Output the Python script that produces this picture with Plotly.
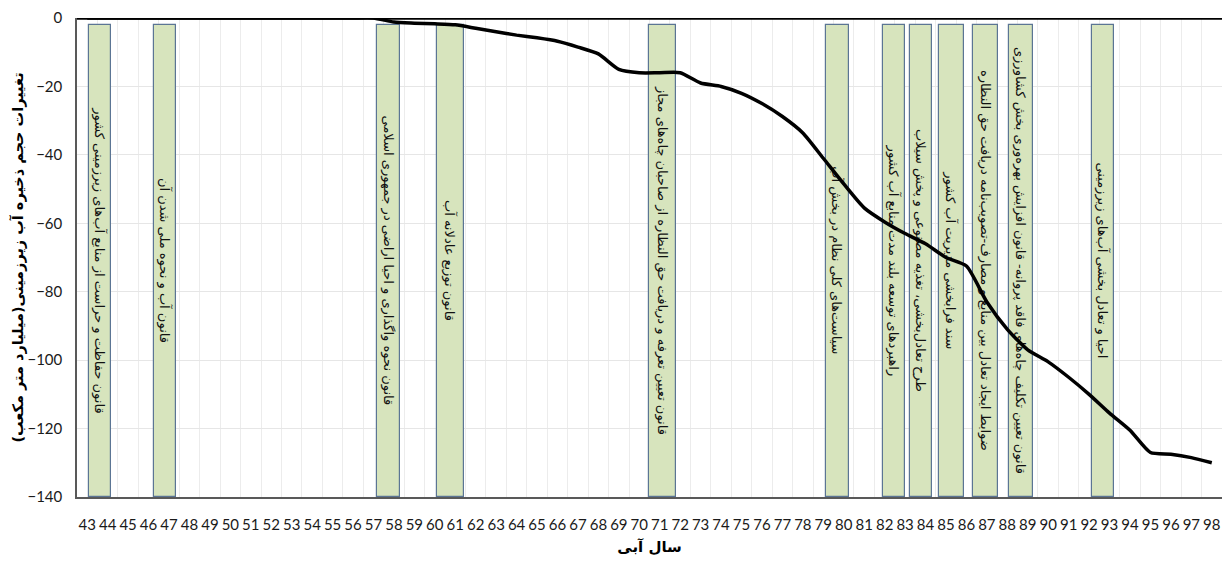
import plotly.graph_objects as go

# Water years (Iranian calendar, short form)
years = list(range(43, 99))
tick_labels = [str(y) for y in years]

# Change in groundwater storage (billion m3)
storage_change = [
    0, 0, 0, 0, 0, 0, 0, 0, 0, 0, 0, 0, 0, 0, 0,      # 43-57
    -1.2, -1.5, -1.7, -2.0, -3.0, -4.0, -5.0, -5.8,   # 58-65
    -6.8, -8.5, -10.5, -15.0, -16.0, -16.0, -16.0,    # 66-72
    -19.0, -20.0, -22.0, -25.0, -28.8, -33.6,         # 73-78
    -41.0, -48.5, -55.5, -59.6, -63.0, -66.0,         # 79-84
    -70.0, -72.5, -83.0, -91.0, -97.0, -100.5,        # 85-90
    -105.0, -110.0, -115.5, -120.5, -127.0, -127.5,   # 91-96
    -128.5, -130.0,                                   # 97-98
]

# Laws / policies (position in water-year units)
law_center = [43.63, 46.81, 57.74, 60.76, 71.13, 79.69, 82.48, 83.78,
              85.29, 86.93, 88.65, 92.70]
law_width = [1.1, 1.1, 1.1, 1.3, 1.3, 1.1, 1.08, 1.12, 1.22, 1.18, 1.17, 1.08]
law_top = -2
law_bottom = -140
law_text = [
    "قانون حفاظت و حراست از منابع آب‌های زیرزمینی کشور",
    "قانون آب و نحوه ملی شدن آن",
    "قانون نحوه واگذاری و احیا اراضی در جمهوری اسلامی",
    "قانون توزیع عادلانه آب",
    "قانون تعیین تعرفه و دریافت حق النظاره از صاحبان چاه‌های مجاز",
    "سیاست‌های کلی نظام در بخش آب",
    "راهبردهای توسعه بلند مدت منابع آب کشور",
    "طرح تعادل‌بخشی، تغذیه مصنوعی و پخش سیلاب",
    "سند فرابخشی مدیریت آب کشور",
    "ضوابط ایجاد تعادل بین منابع و مصارف-تصویب‌نامه دریافت حق النظاره",
    "قانون تعیین تکلیف چاه‌های فاقد پروانه- قانون افزایش بهره‌وری بخش کشاورزی",
    "احیا و تعادل بخشی آب‌های زیرزمینی",
]

y_ticks = [0, -20, -40, -60, -80, -100, -120, -140]

fig = go.Figure()

fig.add_trace(go.Bar(
    x=law_center,
    y=[law_top - law_bottom] * len(law_center),
    base=law_bottom,
    width=law_width,
    marker=dict(color="#d7e4bd", line=dict(color="#5b7594", width=1.2)),
    text=law_text,
    textposition="inside",
    insidetextanchor="middle",
    textangle=90,
    constraintext="none",
    textfont=dict(family="DejaVu Sans", size=13, color="#111111"),
    hoverinfo="text",
    showlegend=False,
))

fig.add_trace(go.Scatter(
    x=years,
    y=storage_change,
    mode="lines",
    line=dict(color="black", width=3.5, shape="spline", smoothing=0.6),
    showlegend=False,
))

# thick axis line at zero (top)
fig.add_shape(type="line", xref="paper", yref="y", x0=0, x1=1, y0=0, y1=0,
              line=dict(color="black", width=3.5), layer="above")

fig.update_layout(
    width=1225,
    height=566,
    margin=dict(l=77, r=3, t=18, b=69),
    plot_bgcolor="white",
    paper_bgcolor="white",
    bargap=0,
    font=dict(family="Lato", color="#1a1a1a"),
)

fig.update_xaxes(
    range=[42.5, 98.5],
    automargin=False,
    tickmode="array",
    tickvals=years,
    ticktext=tick_labels,
    tickfont=dict(family="Lato", size=15, color="#1a1a1a"),
    showgrid=False,
    ticks="",
    ticklabelstandoff=13,
    showline=True,
    linecolor="#595959",
    linewidth=1.5,
    zeroline=False,
    minor=dict(tickvals=[y + 0.5 for y in years], showgrid=True,
               gridcolor="#ececec", gridwidth=1, ticks=""),
    title=dict(text="<b>سال آبی</b>",
               font=dict(family="DejaVu Sans", size=15, color="black"),
               standoff=10),
)

fig.update_yaxes(
    range=[-140, 0],
    automargin=False,
    tickmode="array",
    tickvals=y_ticks,
    tickfont=dict(family="Lato", size=15, color="#1a1a1a"),
    showgrid=True,
    gridcolor="#e6e6e6",
    gridwidth=1,
    zeroline=False,
    showline=True,
    linecolor="#595959",
    linewidth=1.5,
    ticks="",
    ticklabelstandoff=10,
    title=dict(text="<b>تغییرات حجم ذخیره آب زیرزمینی(میلیارد متر مکعب)</b>",
               font=dict(family="DejaVu Sans", size=14.5, color="black"),
               standoff=0),
)

fig.write_html(
    "out.html",
    config={"displayModeBar": False},
    post_script="document.body.style.margin='0';document.body.style.overflow='hidden';",
)
